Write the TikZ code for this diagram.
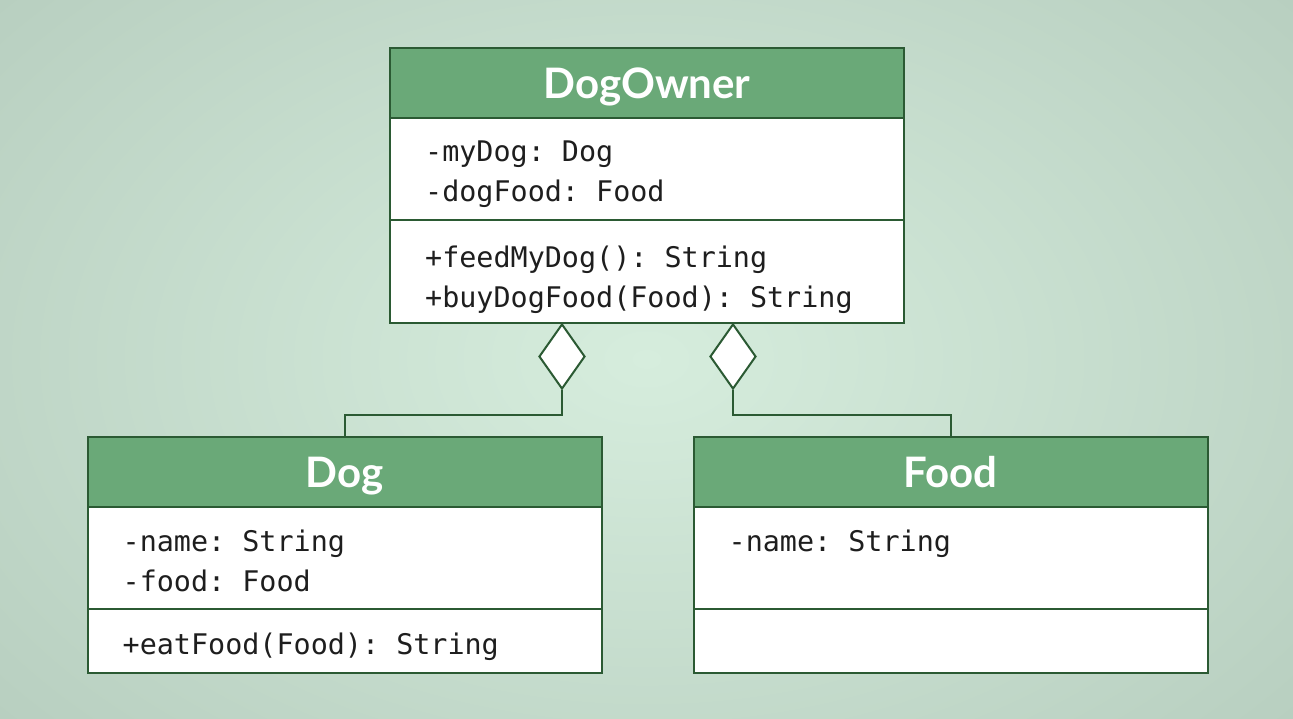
\documentclass[tikz,border=0pt]{standalone}
\usepackage{fontspec}
\setmainfont{Lato}
\newfontfamily\umlmono{DejaVu Sans Mono}
\usetikzlibrary{positioning, shapes.geometric}
\frenchspacing

\definecolor{bginner}{HTML}{D6EDDD}
\definecolor{bgouter}{HTML}{B8CFC0}
\definecolor{umlhead}{HTML}{6AA978}
\definecolor{umlline}{HTML}{2B5A33}
\definecolor{umltext}{HTML}{1E1E1E}

\tikzset{
  classhead/.style={draw=umlline, fill=umlhead, line width=2pt, outer sep=0pt,
                    minimum width=514pt, minimum height=70pt, text=white,
                    text height=32pt, text depth=2pt,
                    font=\bfseries\fontsize{42}{42}\selectfont},
  compart/.style={draw=umlline, fill=white, line width=2pt, outer sep=0pt,
                  minimum width=514pt},
  members/.style={inner sep=0pt, align=left, text=umltext,
                  font=\umlmono\fontsize{28.4}{40}\selectfont},
  agg/.style={diamond, draw=umlline, fill=white, line width=2pt, inner sep=0pt,
              minimum width=46pt, minimum height=65pt},
  link/.style={draw=umlline, line width=2pt}
}

\begin{document}
\begin{tikzpicture}[x=1pt, y=-1pt, line join=miter]

% Background
\useasboundingbox (0,0) rectangle (1293,718);
\shade[inner color=bginner, outer color=bgouter] (-200,-200) rectangle (1493,918);

% DogOwner
\node[classhead] (DogOwner) at (647,83) {DogOwner};
\node[compart, below=0pt of DogOwner, minimum height=102pt] (DogOwnerAttr) {};
\node[compart, below=0pt of DogOwnerAttr, minimum height=103pt] (DogOwnerOps) {};
\node[members, below right=23pt and 35pt of DogOwnerAttr.north west]
  {-myDog: Dog\\-dogFood: Food};
\node[members, below right=26pt and 35pt of DogOwnerOps.north west]
  {+feedMyDog(): String\\+buyDogFood(Food): String};

% Dog
\node[classhead] (Dog) at (344.5,472) {Dog};
\node[compart, below=0pt of Dog, minimum height=102pt] (DogAttr) {};
\node[compart, below=0pt of DogAttr, minimum height=64pt] (DogOps) {};
\node[members, below right=23pt and 35pt of DogAttr.north west]
  {-name: String\\-food: Food};
\node[members, below right=24pt and 35pt of DogOps.north west]
  {+eatFood(Food): String};

% Food
\node[classhead] (Food) at (950.5,472) {Food};
\node[compart, below=0pt of Food, minimum height=102pt] (FoodAttr) {};
\node[compart, below=0pt of FoodAttr, minimum height=64pt] (FoodOps) {};
\node[members, below right=23pt and 35pt of FoodAttr.north west]
  {-name: String};

% Aggregations
\node[agg, anchor=north] (aggDog) at ([xshift=-85pt]DogOwnerOps.south) {};
\node[agg, anchor=north] (aggFood) at ([xshift=86pt]DogOwnerOps.south) {};

\draw[link] (aggDog.south) -- ++(0,25) -| (Dog.north);
\draw[link] (aggFood.south) -- ++(0,25) -| (Food.north);

\end{tikzpicture}
\end{document}
